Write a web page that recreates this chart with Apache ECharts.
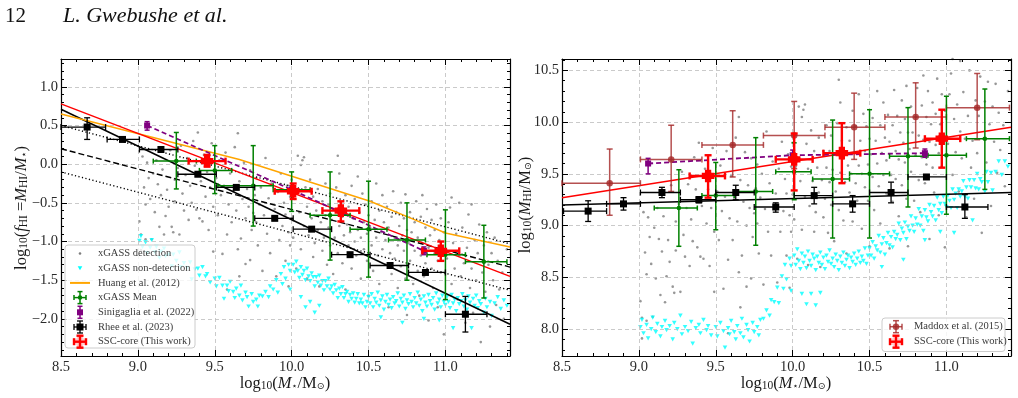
<!DOCTYPE html>
<html><head><meta charset="utf-8">
<script src="https://cdn.jsdelivr.net/npm/echarts@6.0.0/dist/echarts.min.js"></script>
<style>html,body{margin:0;padding:0;background:#fff}#c{width:1018px;height:398px}</style>
</head><body><div id="c"></div><script>
// ---------------- DATA ----------------
const xMajor = [8.5, 9.0, 9.5, 10.0, 10.5, 11.0];
const yMajorL = [-2.0, -1.5, -1.0, -0.5, 0.0, 0.5, 1.0];
const yMajorR = [8.0, 8.5, 9.0, 9.5, 10.0, 10.5];
const xRange = [8.5, 11.42];
const yRangeL = [-2.48, 1.36];
const yRangeR = [7.74, 10.61];

// xGASS detections: [log M*, log fHI]
const xgassDet = [
[9.01,-0.74],[9.02,-0.91],[9.02,-1.11],[9.03,0.10],[9.04,-0.30],[9.05,-0.52],[9.05,-0.97],[9.06,0.02],[9.07,-0.18],[9.08,-0.45],[9.09,-0.97],[9.10,-0.12],[9.11,-0.62],[9.12,0.05],[9.13,-0.26],[9.14,-0.81],[9.15,-0.40],[9.16,-0.07],[9.17,-0.91],[9.18,-0.67],[9.19,-0.33],[9.20,-0.55],[9.21,0.18],[9.22,-0.81],[9.23,-0.88],[9.24,-0.20],[9.24,-0.48],
[9.26,-0.05],[9.27,-0.91],[9.28,0.24],[9.29,-0.38],[9.30,-0.60],[9.31,-0.14],[9.32,0.08],[9.33,-0.72],[9.34,-0.28],[9.35,-0.50],[9.36,0.30],[9.37,-0.02],[9.38,-0.59],[9.39,0.41],[9.40,-0.70],[9.41,-0.22],[9.42,-0.74],[9.43,0.12],[9.44,-0.42],[9.45,-0.10],[9.46,-0.85],[9.47,-0.30],[9.48,0.27],[9.49,-1.13],[9.49,-0.55],
[9.51,-0.18],[9.52,-0.66],[9.53,0.05],[9.54,-0.40],[9.55,-1.16],[9.56,-0.28],[9.57,0.15],[9.58,-0.91],[9.58,-1.62],[9.59,-0.52],[9.60,-0.12],[9.61,-0.75],[9.62,-0.35],[9.63,0.22],[9.64,-0.60],[9.65,0.40],[9.65,-1.10],[9.66,-0.22],[9.66,-1.45],[9.67,-0.96],[9.68,-0.45],[9.69,0.02],[9.70,-1.29],[9.70,-0.70],[9.71,-0.32],[9.72,-0.55],[9.73,-1.24],[9.73,-0.08],[9.74,-0.85],[9.75,-0.63],
[9.76,-0.40],[9.77,-0.75],[9.77,-0.18],[9.78,-1.05],[9.79,-0.52],[9.80,-0.30],[9.81,-1.38],[9.82,-0.66],[9.83,0.08],[9.84,-0.90],[9.85,-0.44],[9.86,-1.15],[9.87,-0.25],[9.88,-0.72],[9.89,-0.58],[9.90,-1.45],[9.91,-0.36],[9.92,-0.98],[9.93,-0.12],[9.94,-0.80],[9.95,-0.50],[9.96,-1.25],[9.96,-0.65],[9.97,-0.28],[9.98,-1.58],[9.98,-0.88],[9.99,-0.42],[9.99,-1.05],[10.00,-0.70],[10.00,-0.20],
[10.01,-0.95],[10.02,-0.45],[10.03,-1.35],[10.04,0.11],[10.05,-0.62],[10.06,-0.01],[10.06,-1.10],[10.07,0.05],[10.08,0.09],[10.08,-0.80],[10.09,-0.30],[10.10,-1.48],[10.10,-0.55],[10.11,-0.92],[10.12,-0.20],[10.13,-0.70],[10.14,-1.20],[10.14,-0.42],[10.15,-1.02],[10.16,-0.60],[10.17,-0.85],[10.17,-0.32],[10.18,-1.58],[10.19,-0.75],[10.20,-0.48],[10.20,-1.12],[10.21,-0.95],[10.22,-0.25],[10.22,-0.66],[10.23,-1.30],[10.24,-0.82],[10.24,-0.52],[10.25,-1.05],[10.25,-0.38],
[10.26,-0.72],[10.27,-1.42],[10.27,-0.58],[10.28,-0.95],[10.29,-0.30],[10.30,0.11],[10.30,-1.15],[10.31,-0.12],[10.31,-0.80],[10.32,-0.50],[10.33,-1.28],[10.33,-0.68],[10.34,-0.92],[10.35,-0.40],[10.35,-1.62],[10.36,-0.78],[10.37,-1.05],[10.37,-0.55],[10.38,-0.88],[10.39,-1.35],[10.39,-0.28],[10.40,-0.70],[10.41,-1.00],[10.41,-0.45],[10.42,-1.18],[10.43,-0.16],[10.43,-0.85],[10.44,-0.62],[10.45,-1.48],[10.45,-0.95],[10.46,-0.38],[10.47,-1.10],[10.47,-0.75],[10.48,-0.52],[10.49,-1.25],[10.49,-0.90],[10.50,-0.66],[10.50,-1.70],
[10.51,-0.82],[10.52,-1.05],[10.52,-0.48],[10.53,-1.38],[10.54,-0.72],[10.55,-0.25],[10.55,-0.95],[10.56,-1.18],[10.57,-0.60],[10.57,-1.55],[10.58,-0.88],[10.59,-0.40],[10.59,-1.10],[10.60,-0.75],[10.61,-1.30],[10.61,-0.98],[10.62,-0.55],[10.63,-1.85],[10.63,-0.82],[10.64,-1.15],[10.65,-0.68],[10.65,-1.42],[10.66,-0.35],[10.67,-0.95],[10.67,-1.22],[10.68,-0.62],[10.69,-1.05],[10.69,-1.60],[10.70,-0.80],[10.71,-0.50],[10.71,-1.32],[10.72,-0.92],[10.73,-1.12],[10.73,-0.70],[10.74,-0.39],[10.74,-1.48],[10.75,-0.85],[10.75,-1.95],
[10.76,-1.02],[10.77,-0.62],[10.77,-1.25],[10.78,-0.88],[10.79,-1.55],[10.80,-0.75],[10.80,-1.12],[10.81,-0.48],[10.82,-1.38],[10.82,-0.95],[10.83,-1.70],[10.84,-0.68],[10.84,-1.18],[10.85,-0.40],[10.85,-1.02],[10.86,-1.45],[10.87,-0.82],[10.87,-1.28],[10.88,-0.58],[10.89,-1.08],[10.89,-2.02],[10.90,-0.92],[10.91,-1.35],[10.91,-0.72],[10.92,-1.60],[10.93,-1.15],[10.93,-0.85],[10.94,-0.52],[10.95,-1.25],[10.95,-1.85],[10.96,-0.98],[10.97,-1.40],[10.97,-0.70],[10.98,-1.10],[10.99,-2.20],[10.99,-0.88],
[11.01,-1.22],[11.02,-0.75],[11.03,-0.56],[11.04,-0.43],[11.04,-1.55],[11.05,-1.02],[11.06,-1.35],[11.07,-0.90],[11.08,-1.75],[11.09,-0.50],[11.09,-1.18],[11.10,-1.45],[11.11,-0.82],[11.12,-1.28],[11.13,-2.05],[11.14,-1.08],[11.15,-0.65],[11.16,-1.60],[11.17,-0.52],[11.17,-1.35],[11.18,-1.92],[11.19,-0.98],[11.20,-1.50],[11.21,-1.15],[11.22,-0.78],[11.23,-2.30],[11.24,-1.40],[11.25,-1.05],
[11.26,-1.65],[11.27,-0.88],[11.28,-1.30],[11.29,-2.10],[11.30,-1.15],[11.31,-1.50],[11.32,-0.95],[11.33,-1.82],[11.34,-1.25],[11.35,-1.62],[11.37,-1.40],[11.38,-2.00],[11.40,-1.10]
];

// xGASS non-detections (upper limits): [log M*, log fHI]
const xgassNonDet = [
[9.01,-0.99],[9.02,-0.93],[9.03,-1.07],[9.05,-1.01],[9.06,-1.15],[9.08,-1.08],[9.09,-0.98],[9.11,-1.14],[9.12,-1.07],[9.14,-1.21],[9.15,-1.13],[9.17,-1.09],[9.18,-1.19],[9.20,-1.17],[9.22,-1.32],[9.23,-1.17],[9.25,-1.25],[9.27,-1.14],[9.28,-1.33],[9.30,-1.28],[9.32,-1.34],[9.34,-1.27],[9.35,-1.49],[9.37,-1.36],[9.39,-1.35],[9.40,-1.44],[9.42,-1.33],[9.44,-1.45],[9.45,-1.42],[9.47,-1.53],
[9.50,-1.48],[9.51,-1.58],[9.53,-1.47],[9.55,-1.57],[9.56,-1.74],[9.58,-1.57],[9.59,-1.64],[9.60,-1.52],[9.62,-1.65],[9.63,-1.73],[9.64,-1.61],[9.66,-1.70],[9.67,-1.57],[9.68,-1.76],[9.70,-1.66],[9.71,-1.72],[9.72,-1.84],[9.74,-1.68],[9.75,-1.78],[9.77,-1.75],[9.78,-1.84],[9.79,-1.70],
[9.81,-1.71],[9.83,-1.65],[9.85,-1.72],[9.86,-1.58],[9.88,-1.62],[9.90,-1.50],[9.91,-1.66],[9.93,-1.42],[9.94,-1.55],[9.95,-1.33],[9.96,-1.48],[9.98,-1.30],[9.99,-1.38],[9.99,-1.62],
[10.01,-1.30],[10.02,-1.40],[10.03,-1.26],[10.04,-1.38],[10.05,-1.47],[10.06,-1.33],[10.06,-1.72],[10.07,-1.43],[10.08,-1.38],[10.09,-1.50],[10.09,-1.85],[10.10,-1.35],[10.11,-1.45],[10.12,-1.51],[10.12,-1.78],[10.13,-1.41],[10.14,-1.46],[10.15,-1.58],[10.15,-1.92],[10.16,-1.46],[10.17,-1.53],[10.18,-1.44],[10.18,-1.83],[10.19,-1.57],[10.20,-1.51],[10.21,-1.63],[10.22,-1.51],[10.23,-1.58],[10.24,-1.48],[10.25,-1.62],[10.26,-1.58],[10.27,-1.67],[10.28,-1.56],[10.29,-1.63],[10.30,-1.73],[10.31,-1.61],[10.32,-1.68],[10.33,-1.59],[10.34,-1.73],[10.35,-1.68],[10.36,-1.65],[10.37,-1.78],[10.38,-1.69],[10.39,-1.74],[10.40,-1.67],[10.41,-1.79],[10.42,-1.74],[10.43,-1.68],[10.44,-1.80],[10.45,-1.75],[10.46,-1.80],[10.47,-1.69],[10.48,-1.85],[10.49,-1.78],
[10.50,-1.72],[10.51,-1.80],[10.52,-1.68],[10.53,-1.85],[10.54,-1.74],[10.55,-1.79],[10.56,-1.66],[10.57,-1.83],[10.58,-1.76],[10.58,-1.98],[10.59,-1.71],[10.60,-1.88],[10.61,-1.78],[10.62,-1.69],[10.63,-1.82],[10.64,-1.75],[10.65,-1.86],[10.66,-1.72],[10.67,-1.80],[10.68,-1.77],[10.69,-1.67],[10.70,-1.84],[10.71,-1.74],[10.72,-1.79],[10.72,-2.05],[10.73,-1.70],[10.74,-1.87],[10.75,-1.76],[10.76,-1.81],[10.77,-1.68],[10.78,-1.78],[10.79,-1.85],[10.80,-1.73],[10.81,-1.80],[10.82,-1.66],[10.83,-1.83],[10.84,-1.75],[10.85,-1.90],[10.86,-1.71],[10.86,-2.00],[10.87,-1.79],[10.88,-1.84],[10.89,-1.69],[10.90,-1.77],[10.91,-1.82],[10.92,-1.73],[10.93,-1.88],[10.94,-1.67],[10.95,-1.80],[10.96,-1.75],[10.96,-2.02],[10.97,-1.85],[10.98,-1.70],[10.99,-1.78],
[11.00,-1.82],[11.01,-1.72],[11.02,-1.78],[11.03,-1.86],[11.04,-1.69],[11.05,-1.80],[11.05,-2.12],[11.06,-1.75],[11.07,-1.90],[11.08,-1.73],[11.09,-1.81],[11.10,-1.77],[11.11,-1.68],[11.12,-1.84],[11.13,-1.76],[11.14,-1.88],[11.15,-1.71],[11.16,-1.79],[11.17,-2.12],[11.18,-1.74],[11.19,-1.83],[11.20,-1.70],[11.21,-1.86],[11.22,-1.77],[11.23,-1.81],[11.25,-1.92],[11.26,-1.74],[11.27,-1.85],[11.29,-1.78],[11.30,-1.96],[11.32,-1.80],[11.34,-1.72],[11.36,-1.87],[11.38,-1.76],[11.40,-1.83]
];

// error-bar points: [x, y, xlow, xhigh, ylow, yhigh]
const xgassMeanL = [
[9.25,0.04,9.10,9.38,-0.32,0.41],[9.50,-0.08,9.40,9.61,-0.38,0.24],[9.75,-0.28,9.52,9.88,-0.80,0.24],
[10.00,-0.33,9.88,10.12,-0.61,-0.10],[10.25,-0.66,10.12,10.38,-1.24,-0.10],[10.50,-0.84,10.38,10.62,-1.46,-0.22],
[10.75,-0.98,10.63,10.87,-1.50,-0.50],[11.00,-1.17,10.88,11.13,-1.75,-0.59],[11.25,-1.26,11.13,11.40,-1.73,-0.79]];
const sinigagliaL = [[9.06,0.50,9.06,9.06,0.44,0.55],[10.00,-0.33,10.00,10.00,-0.38,-0.28],[10.86,-1.12,10.86,10.86,-1.17,-1.07]];
const rheeL = [
[8.67,0.48,8.50,8.79,0.32,0.60],[8.90,0.32,8.80,9.01,0.30,0.34],[9.15,0.19,9.01,9.26,0.17,0.21],
[9.39,-0.13,9.26,9.51,-0.15,-0.11],[9.64,-0.30,9.51,9.76,-0.32,-0.28],[9.89,-0.70,9.76,10.01,-0.72,-0.68],
[10.13,-0.84,10.01,10.26,-0.86,-0.82],[10.38,-1.17,10.26,10.51,-1.19,-1.15],[10.64,-1.31,10.51,10.76,-1.33,-1.29],
[10.87,-1.40,10.76,11.00,-1.42,-1.38],[11.13,-1.94,11.00,11.27,-2.17,-1.71]];
const sscL = [[9.45,0.04,9.33,9.57,-0.03,0.12],[10.01,-0.35,9.89,10.13,-0.45,-0.25],[10.32,-0.60,10.20,10.44,-0.74,-0.48],[10.97,-1.12,10.85,11.09,-1.25,-1.00]];

const maddoxR = [
[8.81,9.41,8.50,9.01,9.10,9.74],[9.21,9.64,9.01,9.41,9.33,9.97],[9.61,9.78,9.41,9.81,9.47,10.11],
[10.01,9.87,9.81,10.21,9.55,10.20],[10.40,9.95,10.21,10.60,9.64,10.28],[10.80,10.05,10.60,11.00,9.75,10.38],
[11.20,10.14,11.00,11.41,9.83,10.47]];
const sscR = [[9.45,9.48,9.33,9.56,9.27,9.68],[10.01,9.64,9.89,10.13,9.34,9.89],[10.32,9.70,10.20,10.44,9.41,9.99],[10.97,9.84,10.86,11.09,9.56,10.12]];
const xgassMeanR = [
[9.26,9.17,9.10,9.38,8.80,9.54],[9.50,9.29,9.41,9.62,8.96,9.61],[9.76,9.33,9.63,9.87,8.81,9.85],
[10.01,9.52,9.89,10.12,9.25,9.80],[10.26,9.45,10.13,10.37,8.88,10.02],[10.50,9.50,10.37,10.63,8.88,10.12],
[10.75,9.67,10.63,10.87,9.18,10.14],[11.00,9.68,10.88,11.13,9.11,10.25],[11.25,9.84,11.13,11.41,9.35,10.32]];
const rheeR = [
[8.67,9.14,8.51,8.79,9.04,9.24],[8.90,9.21,8.79,9.01,9.15,9.27],[9.15,9.32,9.01,9.27,9.27,9.37],
[9.39,9.25,9.27,9.50,9.22,9.28],[9.63,9.32,9.50,9.75,9.25,9.39],[9.89,9.18,9.75,10.01,9.13,9.22],
[10.14,9.29,10.01,10.26,9.21,9.37],[10.39,9.21,10.26,10.50,9.13,9.29],[10.64,9.32,10.50,10.75,9.22,9.42],
[10.87,9.47,10.75,11.00,9.45,9.49],[11.12,9.18,11.00,11.27,9.07,9.30]];
const sinigagliaR = [[9.06,9.60,9.06,9.06,9.50,9.65],[10.00,9.68,10.00,10.00,9.63,9.73],[10.86,9.70,10.86,10.86,9.66,9.74]];

// fitted / literature relations
const huangL = [[8.5,0.65],[9.66,0.06],[10.51,-0.48],[10.79,-0.71],[11.0,-0.89],[11.42,-1.07]];
const sscFitL = [[8.5,0.78],[11.42,-1.45]];
const rheeFitL = [[8.5,0.71],[11.42,-2.07]];
const dashedL = [[8.5,0.20],[11.42,-1.33]];
const dottedUpL = [[8.5,0.50],[11.42,-1.03]];
const dottedLoL = [[8.5,-0.10],[11.42,-1.63]];
const sscFitR = [[8.5,9.27],[11.42,9.95]];
const rheeFitR = [[8.5,9.20],[11.42,9.32]];

const legendLeft = ['xGASS detection','xGASS non-detection','Huang et al. (2012)','xGASS Mean','Sinigaglia et al. (2022)','Rhee et al. (2023)','SSC-core (This work)'];
const legendRight = ['Maddox et al. (2015)','SSC-core (This work)'];

// ---------------- STYLE / BUILD ----------------
const FONT = "'Liberation Serif','DejaVu Serif',serif";
const C = {grey:'#7d7d7d', cyan:'#00ffff', orange:'#ffa500', green:'#008000', purple:'#800080', black:'#000000', red:'#ff0000', brown:'#a52a2a'};
// right panel: log M_HI = log fHI + log M*
const xgassDetR = xgassDet.map(p => [p[0], +(p[1] + p[0]).toFixed(3)]);
const xgassNonDetR = xgassNonDet.map(p => [p[0], +(p[1] + p[0]).toFixed(3)]);

function minorList(lo, hi) { const out = []; for (let k = Math.ceil(lo*10 + 1e-6); k <= Math.floor(hi*10 - 1e-6); k++) { if (k % 5 !== 0) out.push(k/10); } return out; }
function isMajor(v) { return Math.abs(v*2 - Math.round(v*2)) < 1e-6; }
function fmt(v) { if (Math.abs(v) < 1e-9) v = 0; return isMajor(v) ? v.toFixed(1).replace('-', '\u2212') : ''; }

function mkAxis(grid, pos, range, role) {
  const isMinor = role === 'minorA' || role === 'minorB';
  const ax = {
    type: 'value', gridIndex: grid, position: pos, min: range[0], max: range[1],
    minInterval: 0.5, maxInterval: 0.5, splitNumber: 6,
    axisLine: {show: !isMinor, onZero: false, lineStyle: {color: '#000', width: 1.2}},
    axisTick: {show: true, inside: true, length: isMinor ? 3 : 6, lineStyle: {color: '#000', width: 1}},
    axisLabel: {show: role === 'main', formatter: fmt, fontFamily: FONT, fontSize: 14.5, color: '#2a2a2a', margin: 4},
    splitLine: {show: role === 'main', lineStyle: {color: '#bdbdbd', width: 0.8, type: [4, 3]}},
    z: 3
  };
  if (isMinor) ax.axisTick.customValues = minorList(range[0], range[1]);
  return ax;
}
const xAxes = [], yAxes = [];
[[xRange, yRangeL], [xRange, yRangeR]].forEach((r, g) => {
  xAxes.push(mkAxis(g, 'bottom', r[0], 'main'), mkAxis(g, 'top', r[0], 'mirror'), mkAxis(g, 'bottom', r[0], 'minorA'), mkAxis(g, 'top', r[0], 'minorB'));
  yAxes.push(mkAxis(g, 'left', r[1], 'main'), mkAxis(g, 'right', r[1], 'mirror'), mkAxis(g, 'left', r[1], 'minorA'), mkAxis(g, 'right', r[1], 'minorB'));
});
yAxes[0].axisLabel.margin = 3; yAxes[4].axisLabel.margin = 3;

function lineS(data, g, color, width, type, z) {
  return {type: 'line', data, xAxisIndex: g*4, yAxisIndex: g*4, showSymbol: false, symbol: 'none', silent: true,
    lineStyle: {color, width, type: type || 'solid'}, z: z || 5};
}
function scatterS(data, g, kind) {
  return kind === 'det'
    ? {type: 'scatter', data, xAxisIndex: g*4, yAxisIndex: g*4, symbol: 'circle', symbolSize: 2.6, itemStyle: {color: C.grey}, silent: true, z: 2}
    : {type: 'scatter', data, xAxisIndex: g*4, yAxisIndex: g*4, symbol: 'triangle', symbolRotate: 180, symbolSize: [4.6, 4.2], itemStyle: {color: C.cyan}, silent: true, z: 2};
}
function markerShape(kind, cx, cy, s, color) {
  if (kind === 'square') return {type: 'rect', shape: {x: cx - s/2, y: cy - s/2, width: s, height: s}, style: {fill: color}};
  if (kind === 'plus') {
    const a = s*0.3, b = s*0.6;
    return {type: 'group', children: [
      {type: 'polygon', shape: {points: [[cx-a,cy-b],[cx+a,cy-b],[cx+a,cy-a],[cx+b,cy-a],[cx+b,cy+a],[cx+a,cy+a],[cx+a,cy+b],[cx-a,cy+b],[cx-a,cy+a],[cx-b,cy+a],[cx-b,cy-a],[cx-a,cy-a]]}, style: {fill: color}},
      {type: 'circle', shape: {cx, cy, r: s*0.42}, style: {fill: color}}]};
  }
  return {type: 'circle', shape: {cx, cy, r: s/2}, style: {fill: color}};
}
function errBarShapes(cx, cy, xa, xb, ya, yb, st) {
  const ch = [], ls = {stroke: st.color, lineWidth: st.lw, opacity: st.op || 1};
  const cap = st.cap;
  if (xb - xa > 0.5) {
    ch.push({type: 'line', shape: {x1: xa, y1: cy, x2: xb, y2: cy}, style: ls});
    ch.push({type: 'line', shape: {x1: xa, y1: cy - cap, x2: xa, y2: cy + cap}, style: ls});
    ch.push({type: 'line', shape: {x1: xb, y1: cy - cap, x2: xb, y2: cy + cap}, style: ls});
  }
  if (Math.abs(yb - ya) > 0.5) {
    ch.push({type: 'line', shape: {x1: cx, y1: ya, x2: cx, y2: yb}, style: ls});
    ch.push({type: 'line', shape: {x1: cx - cap, y1: ya, x2: cx + cap, y2: ya}, style: ls});
    ch.push({type: 'line', shape: {x1: cx - cap, y1: yb, x2: cx + cap, y2: yb}, style: ls});
  }
  const m = markerShape(st.marker, cx, cy, st.size, st.color);
  if (st.op) m.style ? (m.style.opacity = st.op) : m.children.forEach(c => c.style.opacity = st.op);
  ch.push(m);
  return ch;
}
function errS(data, g, st) {
  return {type: 'custom', data, xAxisIndex: g*4, yAxisIndex: g*4, z: st.z || 10, silent: true,
    encode: {x: [0, 2, 3], y: [1, 4, 5]},
    renderItem: function (params, api) {
      const x = api.value(0), y = api.value(1);
      const c = api.coord([x, y]);
      const pxl = api.coord([api.value(2), y])[0], pxh = api.coord([api.value(3), y])[0];
      const pyl = api.coord([x, api.value(4)])[1], pyh = api.coord([x, api.value(5)])[1];
      return {type: 'group', children: errBarShapes(c[0], c[1], pxl, pxh, pyl, pyh, st)};
    }};
}
const ST = {
  green: {color: C.green, lw: 1.5, cap: 2.5, marker: 'circle', size: 4.5, z: 11},
  purple: {color: C.purple, lw: 1.5, cap: 2.5, marker: 'square', size: 6, z: 12},
  black: {color: C.black, lw: 1.3, cap: 3, marker: 'square', size: 7, z: 12},
  red: {color: C.red, lw: 2.4, cap: 3.5, marker: 'plus', size: 10.5, z: 14},
  brown: {color: C.brown, lw: 1.5, cap: 3, marker: 'circle', size: 6.5, z: 11, op: 0.82}
};

const series = [
  scatterS(xgassDet, 0, 'det'), scatterS(xgassNonDet, 0, 'non'),
  lineS(dottedUpL, 0, '#000', 1.4, [1.2, 2.4]), lineS(dottedLoL, 0, '#000', 1.4, [1.2, 2.4]),
  lineS(dashedL, 0, '#000', 1.4, [6, 3]), lineS(rheeFitL, 0, '#000', 1.5),
  lineS(huangL, 0, C.orange, 1.5), lineS(sscFitL, 0, C.red, 1.5),
  lineS(sinigagliaL.map(p => [p[0], p[1]]), 0, C.purple, 1.8, [5, 3]),
  errS(xgassMeanL, 0, ST.green), errS(sinigagliaL, 0, ST.purple), errS(rheeL, 0, ST.black), errS(sscL, 0, ST.red),
  scatterS(xgassDetR, 1, 'det'), scatterS(xgassNonDetR, 1, 'non'),
  lineS(rheeFitR, 1, '#000', 1.5), lineS(sscFitR, 1, C.red, 1.5),
  lineS(sinigagliaR.map(p => [p[0], p[1]]), 1, C.purple, 1.8, [5, 3]),
  errS(maddoxR, 1, ST.brown), errS(xgassMeanR, 1, ST.green), errS(sinigagliaR, 1, ST.purple),
  errS(rheeR, 1, ST.black), errS(sscR, 1, ST.red)
];

// ---------------- GRAPHIC: titles, legends ----------------
const RICH = {
  n: {fontFamily: FONT, fontSize: 16.5, fill: '#1a1a1a', color: '#1a1a1a', lineHeight: 20, verticalAlign: 'bottom'},
  i: {fontFamily: FONT, fontSize: 16.5, fontStyle: 'italic', fill: '#1a1a1a', color: '#1a1a1a', lineHeight: 20, verticalAlign: 'bottom'},
  s: {fontFamily: FONT, fontSize: 11.5, fill: '#1a1a1a', color: '#1a1a1a', lineHeight: 8, verticalAlign: 'bottom'},
  d: {fontFamily: "'DejaVu Sans',sans-serif", fontSize: 9.5, fill: '#1a1a1a', color: '#1a1a1a', lineHeight: 8, verticalAlign: 'bottom'}
};
function title(x, y, text, rot) {
  return {type: 'text', x, y, rotation: rot || 0, z: 50, silent: true,
    style: {text, rich: RICH, align: 'center', verticalAlign: 'middle'}};
}
const G = [];
G.push({type: 'text', x: 5, y: 16, z: 50, style: {text: '12', fontFamily: FONT, fontSize: 21, fill: '#111', verticalAlign: 'middle'}});
G.push({type: 'text', x: 63, y: 16, z: 50, style: {text: 'L. Gwebushe et al.', fontFamily: FONT, fontSize: 22, fontStyle: 'italic', fill: '#111', verticalAlign: 'middle'}});
G.push(title(285, 382, '{n|log}{s|10}{n|(}{i|M}{d|\u22c6}{n|/M}{d|\u2299}{n|)}'));
G.push(title(786, 382, '{n|log}{s|10}{n|(}{i|M}{d|\u22c6}{n|/M}{d|\u2299}{n|)}'));
G.push(title(20, 208, '{n|log}{s|10}{n|(}{i|f}{s|HI}{n| =}{i|M}{s|HI}{n|/}{i|M}{d|\u22c6}{n|)}', Math.PI/2));
G.push(title(524, 205, '{n|log}{s|10}{n|(}{i|M}{s|HI}{n|/M}{d|\u2299}{n|)}', Math.PI/2));

function legIcon(kind, cx, cy) {
  const out = [];
  if (kind === 'det') out.push({type: 'circle', shape: {cx, cy, r: 1.3}, style: {fill: C.grey}});
  else if (kind === 'non') out.push({type: 'polygon', shape: {points: [[cx-2.3, cy-2], [cx+2.3, cy-2], [cx, cy+2]]}, style: {fill: C.cyan}});
  else if (kind === 'line') out.push({type: 'line', shape: {x1: cx-10, y1: cy, x2: cx+10, y2: cy}, style: {stroke: C.orange, lineWidth: 2}});
  else {
    const st = ST[kind];
    const hx = kind === 'purple' ? 0 : 6;
    out.push(...errBarShapes(cx, cy, cx - hx, cx + hx, cy + 6, cy - 6, st));
  }
  return out.map(e => Object.assign(e, {z: 61, silent: true}));
}
function legendBox(x, y, w, h, names, kinds, iconX, textX, y0, dy) {
  G.push({type: 'rect', shape: {x, y, width: w, height: h, r: 3}, style: {fill: 'rgba(255,255,255,0.8)', stroke: '#cccccc', lineWidth: 1}, z: 60, silent: true});
  names.forEach((nm, k) => {
    const cy = y0 + k*dy;
    G.push(...legIcon(kinds[k], iconX, cy));
    G.push({type: 'text', x: textX, y: cy, z: 61, silent: true, style: {text: nm, fontFamily: FONT, fontSize: 10.5, fill: '#3a3a3a', verticalAlign: 'middle'}});
  });
}
legendBox(65, 245, 130, 103, legendLeft, ['det', 'non', 'line', 'green', 'purple', 'black', 'red'], 80, 98, 253.5, 14.7);
legendBox(882, 318, 123, 33.5, legendRight, ['brown', 'red'], 896, 914, 326.7, 15);

const chart = echarts.init(document.getElementById('c'), null, {renderer: 'canvas'});
chart.setOption({
  animation: false,
  backgroundColor: '#ffffff',
  grid: [{left: 61, top: 59, width: 449, height: 297}, {left: 562, top: 59, width: 449, height: 297}],
  xAxis: xAxes, yAxis: yAxes, series, graphic: G
});
</script></body></html>
